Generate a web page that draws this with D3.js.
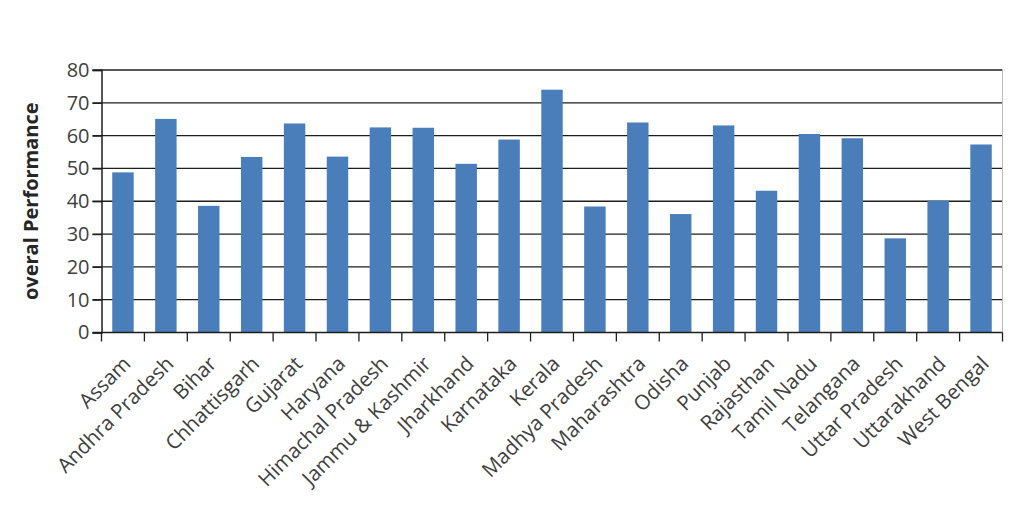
<!DOCTYPE html>
<html><head><meta charset="utf-8">
<script src="https://cdn.jsdelivr.net/npm/d3@7"></script>
<style>body{margin:0;background:#fff;} svg{display:block;}</style>
</head><body>
<svg id="chart" width="1024" height="512"></svg>
<script>
const categories = ["Assam","Andhra Pradesh","Bihar","Chhattisgarh","Gujarat","Haryana","Himachal Pradesh","Jammu & Kashmir","Jharkhand","Karnataka","Kerala","Madhya Pradesh","Maharashtra","Odisha","Punjab","Rajasthan","Tamil Nadu","Telangana","Uttar Pradesh","Uttarakhand","West Bengal"];
const values = [48.8,65.1,38.6,53.5,63.7,53.6,62.5,62.4,51.4,58.8,74.0,38.4,64.0,36.1,63.1,43.2,60.5,59.2,28.7,40.2,57.3];
const yTicks = [0,10,20,30,40,50,60,70,80];
const yTitle = "overal Performance";

const svg = d3.select("#chart");
const pLeft = 101.5, pRight = 1002.5, pTop = 70, pBottom = 332.5;
const x = d3.scaleBand().domain(categories).range([pLeft, pRight]).paddingInner(0.5).paddingOuter(0.25);
const y = d3.scaleLinear().domain([0, 80]).range([pBottom, pTop]);
const textCol = "#404040";
const font = "'Open Sans', sans-serif";

// gridlines
svg.append("g").selectAll("line").data(yTicks.filter(d => d > 0)).join("line")
  .attr("x1", pLeft - 9).attr("x2", pRight)
  .attr("y1", d => y(d)).attr("y2", d => y(d))
  .attr("stroke", "#1e1e1e").attr("stroke-width", 1.3);

// right border
svg.append("line").attr("x1", pRight).attr("x2", pRight).attr("y1", pTop).attr("y2", pBottom)
  .attr("stroke", "#bdbdbd").attr("stroke-width", 1);

// bars
svg.append("g").selectAll("rect").data(values).join("rect")
  .attr("x", (d, i) => x(categories[i]))
  .attr("width", x.bandwidth())
  .attr("y", d => y(d))
  .attr("height", d => y(0) - y(d))
  .attr("fill", "#4a7ebb");

// y axis
const yAxis = svg.append("g").attr("transform", `translate(${pLeft},0)`)
  .call(d3.axisLeft(y).tickValues(yTicks).tickSize(9).tickPadding(3));
yAxis.select(".domain").attr("stroke", "#1e1e1e").attr("stroke-width", 1.5);
yAxis.selectAll(".tick line").attr("stroke", "#1e1e1e").attr("stroke-width", 1.3);
yAxis.selectAll("text").attr("font-family", font).attr("font-size", 20).attr("fill", textCol);

// x axis line + ticks at band boundaries
const step = x.step();
const boundaries = d3.range(categories.length + 1).map(i => pLeft + i * step);
svg.append("line").attr("x1", pLeft - 9).attr("x2", pRight).attr("y1", pBottom).attr("y2", pBottom)
  .attr("stroke", "#1e1e1e").attr("stroke-width", 1.5);
svg.append("g").selectAll("line").data(boundaries).join("line")
  .attr("x1", d => d).attr("x2", d => d).attr("y1", pBottom).attr("y2", pBottom + 9)
  .attr("stroke", "#1e1e1e").attr("stroke-width", 1.3);

// x labels
svg.append("g").selectAll("text").data(categories).join("text")
  .attr("transform", d => `translate(${x(d) + x.bandwidth() / 2 + 9},${365}) rotate(-45)`)
  .attr("text-anchor", "end")
  .attr("font-family", font).attr("font-size", 20.5).attr("fill", textCol)
  .text(d => d);

// y title
svg.append("text")
  .attr("transform", `translate(38,${(pTop + pBottom) / 2}) rotate(-90)`)
  .attr("text-anchor", "middle")
  .attr("font-family", font).attr("font-size", 20).attr("font-weight", "bold").attr("fill", "#262626")
  .text(yTitle);
</script>
</body></html>
